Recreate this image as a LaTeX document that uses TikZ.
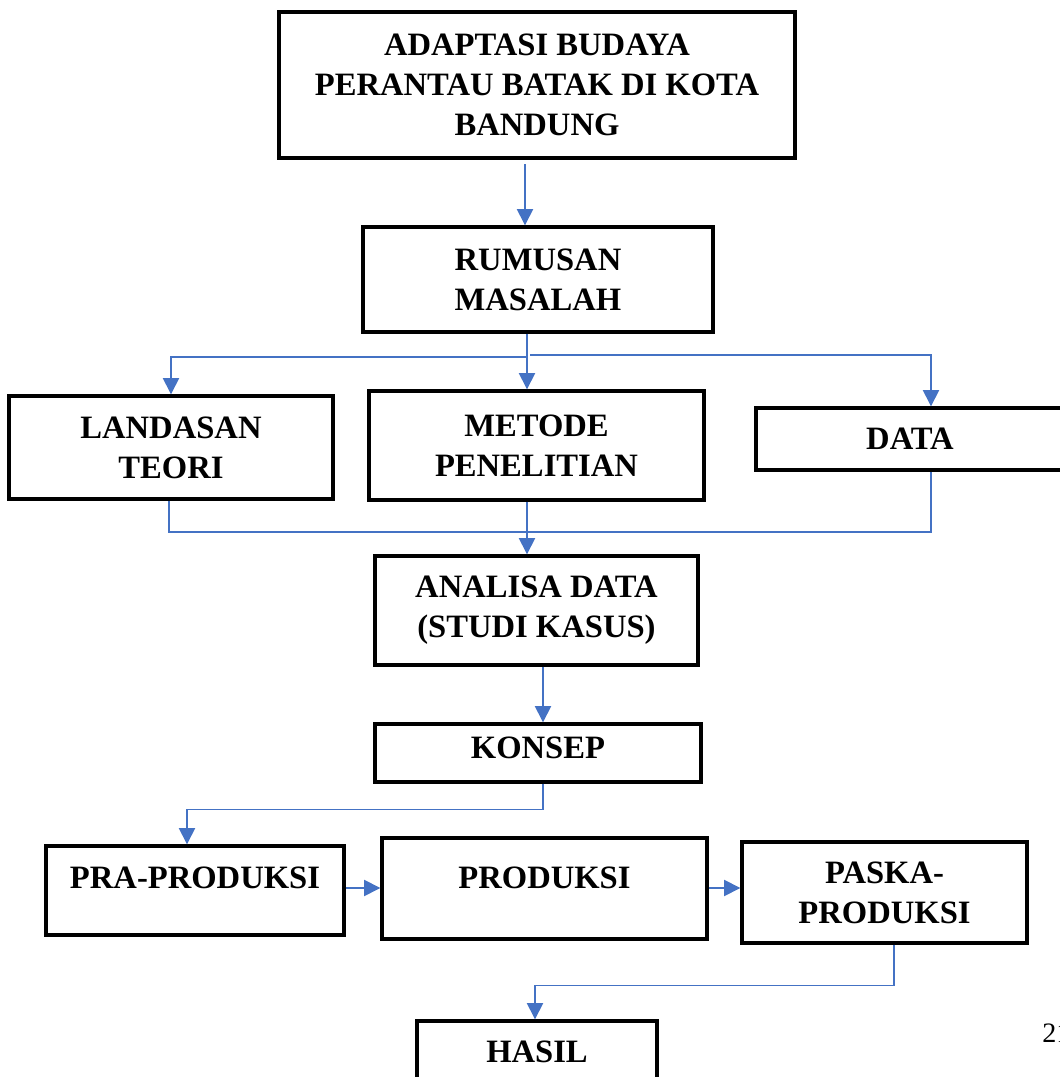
\documentclass[tikz,border=0pt]{standalone}
\usepackage{fontspec}
\setmainfont{Liberation Serif}
\usetikzlibrary{arrows.meta}
\definecolor{garis}{RGB}{68,114,196}
\begin{document}
\begin{tikzpicture}[
  kotak/.style={shape=rectangle, draw=black, line width=2.4pt, font=\bfseries\fontsize{23.2}{28.45}\selectfont},
  alur/.style={draw=garis, line width=1pt, -{Triangle[width=11.5pt,length=11.5pt]}},
  sambung/.style={draw=garis, line width=1pt}]
%%%%%%%%%%%%%%%%%%%%%%%%%%%%%%%%%%%%%%%%%%% HELP LINES
%\draw[help lines] (0,0) grid +(26,26);
\useasboundingbox (0,0) rectangle (26.5,26.925);

%%%%%%%%%%%%%%%%%%%%%%%%%%%%%%%%%%%%%%%%%%% elements
\node[kotak, align=center, minimum width=12.9cm, minimum height=3.65cm](adaptasi)at(13.425,24.8){ADAPTASI BUDAYA\\PERANTAU BATAK DI KOTA\\BANDUNG};
\node[kotak, align=center, minimum width=8.75cm, minimum height=2.625cm](rumusan)at(13.45,19.9375){RUMUSAN\\MASALAH};

\node[kotak, align=center, minimum width=8.1cm, minimum height=2.575cm](landasan)at(4.275,15.7375){LANDASAN\\TEORI};
\node[kotak, align=center, minimum width=8.375cm, minimum height=2.725cm](metode)at(13.4125,15.7875){METODE\\PENELITIAN};
\node[kotak, minimum width=7.7cm, minimum height=1.55cm](data)at(22.75,15.95){DATA};

\node[kotak, align=center, minimum width=8.075cm, minimum height=2.725cm](analisa)at(13.4125,11.6625){ANALISA DATA\\(STUDI KASUS)};
\node[kotak, minimum width=8.15cm, minimum height=1.45cm, text height=0.55cm, text depth=0.25cm](konsep)at(13.45,8.1){KONSEP};

%%%%% produksi
\node[kotak, minimum width=7.45cm, minimum height=2.225cm, text height=0.55cm, text depth=0.625cm](pra)at(4.875,4.6625){PRA-PRODUKSI};
\node[kotak, minimum width=8.125cm, minimum height=2.525cm, text height=0.55cm, text depth=0.525cm](produksi)at(13.6125,4.7125){PRODUKSI};
\node[kotak, align=center, minimum width=7.125cm, minimum height=2.525cm](paska)at(22.1125,4.6125){PASKA-\\PRODUKSI};
\node[kotak, minimum width=6cm, minimum height=1.55cm](hasil)at(13.425,0.625){HASIL};

\node[anchor=base west, inner sep=0pt, font=\fontsize{20}{24}\selectfont](halaman)at(26.05,0.875){21};

%%%%% arrows
\coordinate (bagi) at (13.175,18);
\coordinate (bagikanan) at (13.25,18.05);
\coordinate (gabung) at (13.175,13.625);

\draw[alur] ([xshift=-0.3cm,yshift=-0.12cm]adaptasi.south) -- ([xshift=-0.3cm]adaptasi.south |- rumusan.north);
\draw[alur] (rumusan.south -| bagi) -- (metode.north -| bagi);
\draw[alur] (bagi) -| (landasan.north);
\draw[alur] (bagikanan) -| ([xshift=0.525cm]data.north);

\draw[sambung] ([xshift=-0.05cm]landasan.south) |- ([xshift=0.525cm]data.south |- gabung) -- ([xshift=0.525cm]data.south);
\draw[alur] (metode.south -| gabung) -- (analisa.north -| gabung);
\draw[alur] ([xshift=0.1625cm]analisa.south) -- ([xshift=0.1625cm]analisa.south |- konsep.north);
\draw[alur] ([xshift=0.125cm]konsep.south) -- ++(0,-0.65) -| ([xshift=-0.2cm]pra.north);

\draw[alur] ([yshift=0.0625cm]pra.east) -- ([yshift=0.0625cm]pra.east -| produksi.west);
\draw[alur] ([yshift=0.0125cm]produksi.east) -- ([yshift=0.0125cm]produksi.east -| paska.west);
\draw[alur] ([xshift=0.2375cm]paska.south) -- ++(0,-1.025) -| ([xshift=-0.05cm]hasil.north);
\end{tikzpicture}
\end{document}
